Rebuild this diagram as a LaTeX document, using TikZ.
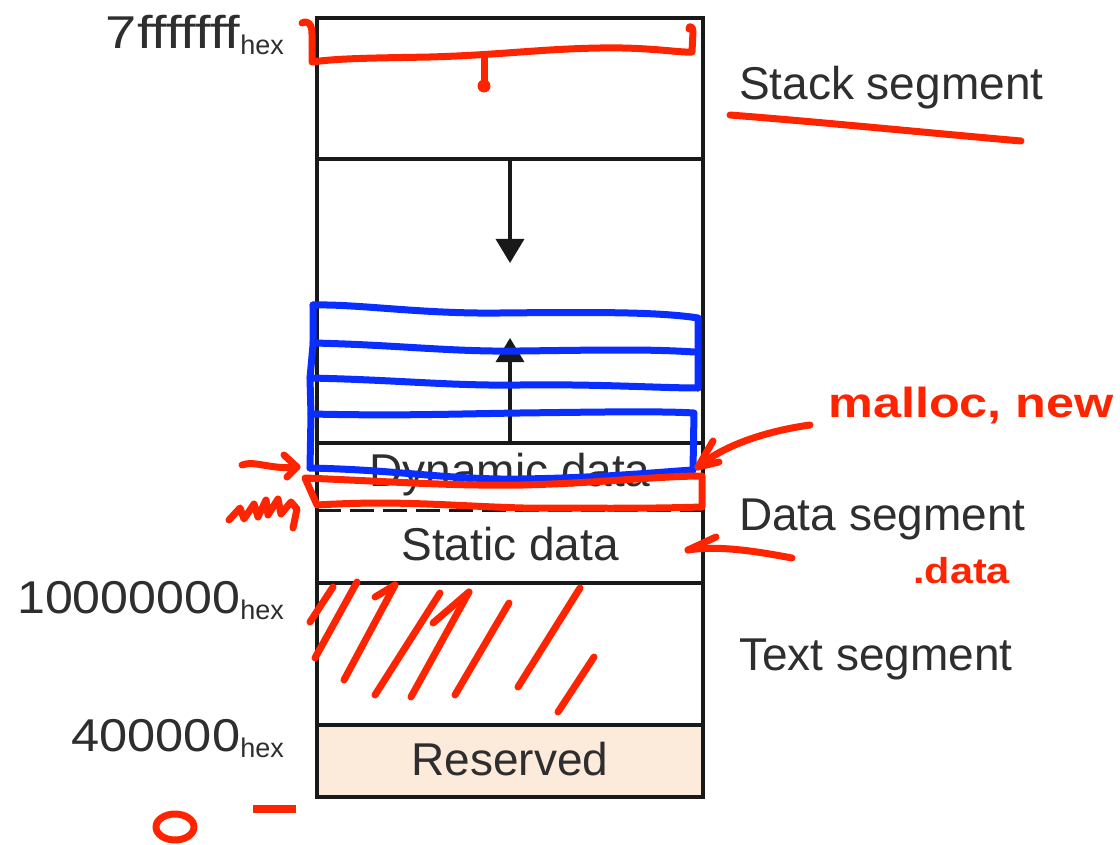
\documentclass[tikz,border=0pt]{standalone}
\usepackage{fontspec}
\setmainfont{Liberation Sans}
\usetikzlibrary{arrows.meta}
\definecolor{ink}{HTML}{2E2E2E}
\definecolor{penred}{HTML}{FF2400}
\definecolor{penblue}{HTML}{0A2EFF}
\definecolor{resv}{HTML}{FCEADB}
\newcommand\hexsub{\raisebox{-6pt}{\fontsize{27}{27}\selectfont hex}}
\begin{document}
\begin{tikzpicture}[x=1pt,y=-1pt,
  frame/.style={draw=black!90, line width=4pt},
  lab/.style={inner sep=0pt, text=ink, font=\fontsize{46}{50}\selectfont},
  hand/.style={inner sep=0pt, text=penred, font=\fontsize{42}{46}\selectfont\bfseries},
  redpen/.style={draw=penred, line width=7pt, line cap=round, line join=round},
  bluepen/.style={draw=penblue, line width=7pt, line cap=round, line join=round},
  growtip/.style={-{Triangle[length=24pt,width=28pt]}}]
\useasboundingbox (0,0) rectangle (1120,845);
\fill[white] (0,0) rectangle (1120,845);

% memory map
\fill[resv] (317,725) rectangle (703,797);
\coordinate (tl) at (317,18);
\coordinate (br) at (703,797);
\draw[frame] (tl) rectangle (br);
\coordinate (s1) at (317,159); \coordinate (s2) at (703,159);
\coordinate (d1) at (317,443); \coordinate (d2) at (703,443);
\coordinate (m1) at (317,510); \coordinate (m2) at (703,510);
\coordinate (t1) at (317,583); \coordinate (t2) at (703,583);
\coordinate (r1) at (317,725); \coordinate (r2) at (703,725);
\draw[frame] (s1) -- (s2);
\draw[frame] (d1) -- (d2);
\draw[frame, line width=3pt, dash pattern=on 24pt off 9pt] (m1) -- (m2);
\draw[frame] (t1) -- (t2);
\draw[frame] (r1) -- (r2);

\coordinate (stacktop) at (510,159);
\coordinate (stackend) at (510,263);
\coordinate (heaptop) at (510,443);
\coordinate (heapend) at (510,338);
\draw[frame, line width=3.5pt, growtip] (stacktop) -- (stackend);
\draw[frame, line width=3.5pt, growtip] (heaptop) -- (heapend);

% labels
\node[lab, anchor=base] (dyn) at (510,486) {Dynamic data};
\node[lab, anchor=base] (sta) at (510,560) {Static data};
\node[lab, anchor=base] (res) at (510,775) {Reserved};
\node[lab, anchor=base west] (stk) at (739,100) {Stack segment};
\node[lab, anchor=base west] (dseg) at (739,530) {Data segment};
\node[lab, anchor=base west] (tseg) at (739,670) {Text segment};
\node[lab, anchor=base east] (a1) at (284,49) {\scalebox{1.22}[1]{7fffffff}\hexsub};
\node[lab, anchor=base east] (a2) at (284,613) {\scalebox{1.09}[1]{10000000}\hexsub};
\node[lab, anchor=base east] (a3) at (284,751) {\scalebox{1.1}[1]{400000}\hexsub};

% blue annotations
\draw[bluepen] (313,305) .. controls (360,304) and (420,314) .. (500,313) .. controls (600,312) and (660,312) .. (698,318)
  -- (698,388);
\draw[bluepen] (313,305) -- (313,345) -- (310,378) -- (311,415) -- (310,468);
\draw[bluepen] (313,343) .. controls (400,345) and (450,352) .. (520,351) .. controls (600,350) and (650,349) .. (694,352);
\draw[bluepen] (310,378) .. controls (400,380) and (450,386) .. (520,385) .. controls (600,384) and (660,388) .. (698,388);
\draw[bluepen] (311,414) .. controls (400,416) and (450,414) .. (520,413) .. controls (600,412) and (660,411) .. (694,413)
  -- (693,470);
\draw[bluepen] (310,468) .. controls (400,470) and (450,480) .. (520,479) .. controls (600,478) and (660,472) .. (693,470);

% red annotations
\draw[redpen] (302,23) .. controls (308,20) and (312,24) .. (312,34) -- (312,62)
  .. controls (340,58) and (380,58) .. (430,57) .. controls (500,55) and (540,49) .. (600,48)
  .. controls (650,47) and (680,53) .. (692,52) -- (693,32) .. controls (693,26) and (689,25) .. (689,29);
\coordinate (stemtop) at (484,56);
\coordinate (stemend) at (484,86);
\draw[redpen] (stemtop) -- (stemend);
\fill[penred] (stemend) circle (6.5pt);

\draw[redpen] (730,115) .. controls (820,122) and (930,133) .. (1021,141);

\draw[redpen] (305,478) .. controls (400,482) and (450,486) .. (523,485) .. controls (600,483) and (660,476) .. (702,476)
  -- (702,507) .. controls (640,509) and (580,508) .. (523,508) .. controls (450,506) and (400,500) .. (317,505) -- cycle;

\node[hand, anchor=base west] (mal) at (828,417) {\scalebox{1.2}[1]{malloc, new}};
\node[hand, anchor=base west, font=\fontsize{36}{40}\selectfont\bfseries] (dat) at (913,583) {\scalebox{1.15}[1]{.data}};

\coordinate (arrA) at (810,425);
\coordinate (tipA) at (698,467);
\draw[redpen] (arrA) .. controls (760,432) and (720,448) .. (tipA);
\draw[redpen] (713,441) -- (tipA) -- (719,462);

\coordinate (arrB) at (792,558);
\coordinate (tipB) at (688,550);
\draw[redpen] (arrB) .. controls (760,552) and (720,545) .. (tipB);
\draw[redpen] (716,537) -- (tipB);

\coordinate (arrC) at (242,465);
\coordinate (tipC) at (297,467);
\draw[redpen] (arrC) .. controls (255,460) and (270,470) .. (tipC);
\draw[redpen] (284,455) -- (tipC) -- (287,477);

\draw[redpen, line width=7pt] (229,520) -- (240,508) -- (244,519) -- (254,504) -- (258,517) -- (266,500) -- (268,515)
  -- (278,499) -- (281,514) -- (291,502) -- (297,509) -- (293,528);

\foreach \a/\b/\c/\d in {333/587/310/622, 357/582/315/658, 395/585/344/680, 440/593/375/695,
                         469/592/411/697, 509/603/455/695, 580/588/518/687, 594/657/558/712}
  \draw[redpen] (\a,\b) -- (\c,\d);
\draw[redpen] (375,597) -- (395,585);
\draw[redpen] (433,623) -- (469,592);

\draw[redpen] (175,827) ellipse (19pt and 13pt);
\coordinate (dashA) at (253,809);
\coordinate (dashB) at (296,809);
\draw[penred, line width=8pt] (dashA) -- (dashB);
\end{tikzpicture}
\end{document}
